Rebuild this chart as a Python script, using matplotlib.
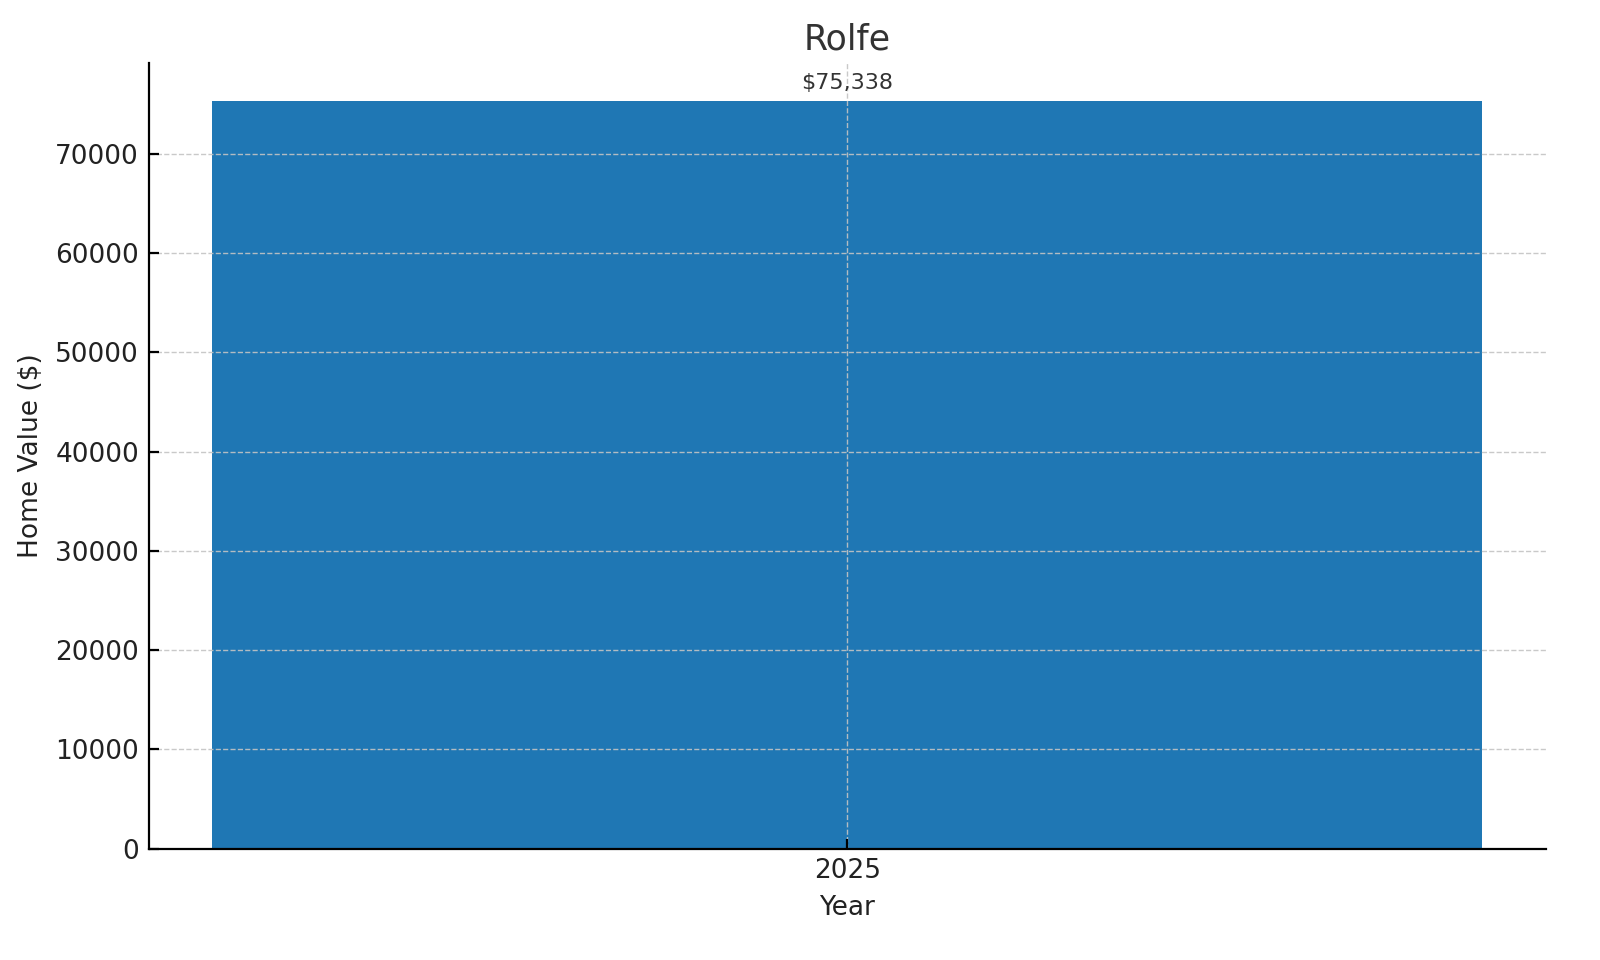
import matplotlib.pyplot as plt

years = ["2025"]
values = [75338]

fig, ax = plt.subplots(figsize=(8, 4.8), dpi=200)
bars = ax.bar(years, values, color="#1f77b4", width=0.8)

for bar, v in zip(bars, values):
    ax.text(bar.get_x() + bar.get_width() / 2, v + 800, f"${v:,}",
            ha="center", va="bottom", fontsize=8, color="#333333")

ax.set_title("Rolfe", fontsize=12.5, color="#333333", pad=5)
ax.set_xlabel("Year", fontsize=9.5, color="#222222")
ax.set_ylabel("Home Value ($)", fontsize=9.5, color="#222222")
ax.tick_params(direction="in", labelsize=9.5, labelcolor="#222222")
ax.grid(True, linestyle="--", linewidth=0.5, color="#c4c4c4", alpha=0.9)
ax.spines["top"].set_visible(False)
ax.spines["right"].set_visible(False)

fig.subplots_adjust(left=0.093, right=0.966, top=0.934, bottom=0.116)
fig.savefig("out.png", dpi=200)
plt.close(fig)
